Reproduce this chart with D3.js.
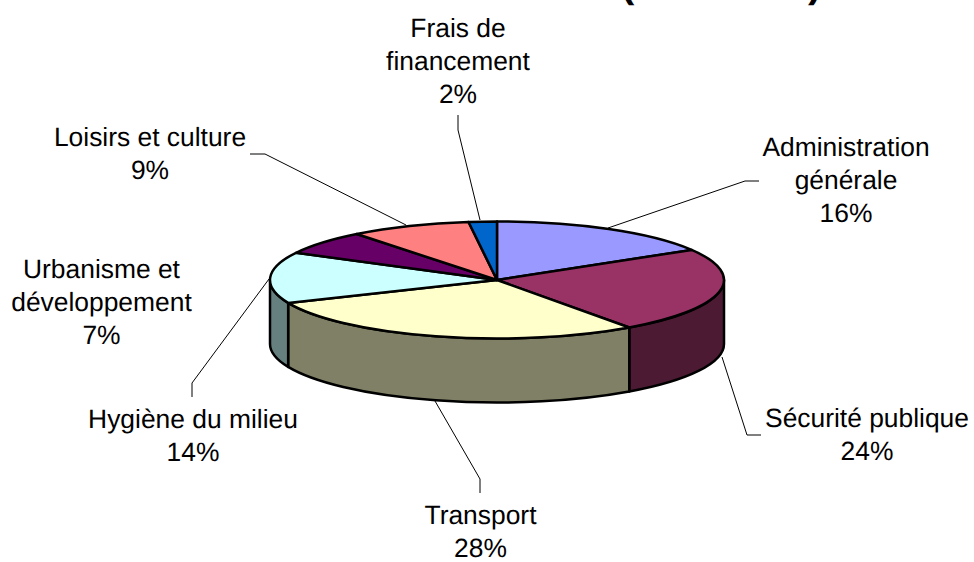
<!DOCTYPE html>
<html>
<head>
<meta charset="utf-8">
<script src="https://cdn.jsdelivr.net/npm/d3@7"></script>
<style>
  html, body { margin: 0; padding: 0; background: #fff; }
  svg { display: block; }
  text { font-family: "Liberation Sans", Arial, sans-serif; fill: #000; text-rendering: geometricPrecision; }
</style>
</head>
<body>
<svg id="plot" width="974" height="562"></svg>
<script>
// shares, clockwise from 12 o'clock. Labels show them rounded
let categories = ["Administration générale", "Sécurité publique", "Transport", "Hygiène du milieu",
                  "Urbanisme et développement", "Loisirs et culture", "Frais de financement"]
let values = [16.4, 23.7, 28.49, 14.11, 6.7, 8.6, 2.0]
let topColors = ["#9999FF", "#993366", "#FFFFCC", "#CCFFFF", "#660066", "#FF8080", "#0066CC"]
let sideColors = ["#4D4D80", "#4D1A33", "#808066", "#668080", "#330033", "#804040", "#003366"]

// label placement, one entry per category
let labelLines = [["Administration", "générale"], ["Sécurité publique"], ["Transport"], ["Hygiène du milieu"],
                  ["Urbanisme et", "développement"], ["Loisirs et culture"], ["Frais de", "financement"]]
let labelX = [846, 867, 480.5, 193, 101.5, 150, 458]
let labelY = [155.5, 426.5, 523.5, 427.5, 277.5, 145.5, 36.5]

// leader lines (Urbanisme has none)
let leaders = [
  [[608, 228], [745, 181], [759, 181]],
  [[722, 357], [747, 435], [761, 435]],
  [[435, 401], [480, 479], [480, 493]],
  [[269, 279], [192, 383], [192, 397]],
  null,
  [[406, 225], [265, 154], [250, 154]],
  [[480, 220], [458, 130], [458, 115]]
]

let svg = d3.select("#plot")

let cx = 497, cy = 280
let rx = 227, ry = 58.5, depth = 64
let line_height = 33, font_size = 26.4

let pie = d3.pie().sort(null).value((d) => d)
let slices = pie(values)

// point on the tilted ellipse, angle clockwise from the top
let px = (a) => cx + rx * Math.sin(a)
let py = (a, dy = 0) => cy - ry * Math.cos(a) + dy

let ellipseArc = (a0, a1, dy) => {
  let large = (a1 - a0) > Math.PI ? 1 : 0
  return `A${rx},${ry} 0 ${large} 1 ${px(a1)},${py(a1, dy)}`
}

// clipped title, only the bottom of the brackets is inside the picture
svg.append("text").attr("x", 621).attr("y", -3.5).attr("font-size", 40).attr("font-weight", "bold").text("(")
svg.append("text").attr("x", 808).attr("y", -3.5).attr("font-size", 40).attr("font-weight", "bold").text(")")

/*--------------- walls -------------- */
// only the front half of the pie shows a wall
let front0 = Math.PI / 2, front1 = Math.PI * 3 / 2

let walls = slices
  .map((d, i) => ({ a0: Math.max(d.startAngle, front0), a1: Math.min(d.endAngle, front1), i: i }))
  .filter((d) => d.a1 > d.a0)

svg.append("g").selectAll("path")
  .data(walls)
  .join("path")
  .attr("d", (d) => `M${px(d.a0)},${py(d.a0)}` + ellipseArc(d.a0, d.a1, 0)
    + `L${px(d.a1)},${py(d.a1, depth)}`
    + `A${rx},${ry} 0 0 0 ${px(d.a0)},${py(d.a0, depth)}Z`)
  .attr("fill", (d) => sideColors[d.i])
  .attr("stroke", "#000")
  .attr("stroke-width", 2.5)
  .attr("stroke-linejoin", "round")

/*--------------- top -------------- */
svg.append("g").selectAll("path")
  .data(slices)
  .join("path")
  .attr("d", (d, i) => `M${cx},${cy}L${px(d.startAngle)},${py(d.startAngle)}`
    + ellipseArc(d.startAngle, d.endAngle, 0) + "Z")
  .attr("fill", (d, i) => topColors[i])
  .attr("stroke", "#000")
  .attr("stroke-width", 2.5)
  .attr("stroke-linejoin", "round")

/*--------------- leaders -------------- */
let leaderLine = d3.line()

svg.append("g").selectAll("path")
  .data(leaders.filter((d) => d))
  .join("path")
  .attr("d", (d) => leaderLine(d))
  .attr("fill", "none")
  .attr("stroke", "#000")
  .attr("stroke-width", 1)

/*--------------- labels -------------- */
let labels = svg.append("g").selectAll("text")
  .data(categories)
  .join("text")
  .attr("text-anchor", "middle")
  .attr("font-size", font_size)

labels.selectAll("tspan")
  .data((d, i) => labelLines[i].concat(Math.round(values[i]) + "%").map((t) => ({ t: t, i: i })))
  .join("tspan")
  .attr("x", (d) => labelX[d.i])
  .attr("y", (d, j) => labelY[d.i] + j * line_height)
  .text((d) => d.t)
</script>
</body>
</html>
